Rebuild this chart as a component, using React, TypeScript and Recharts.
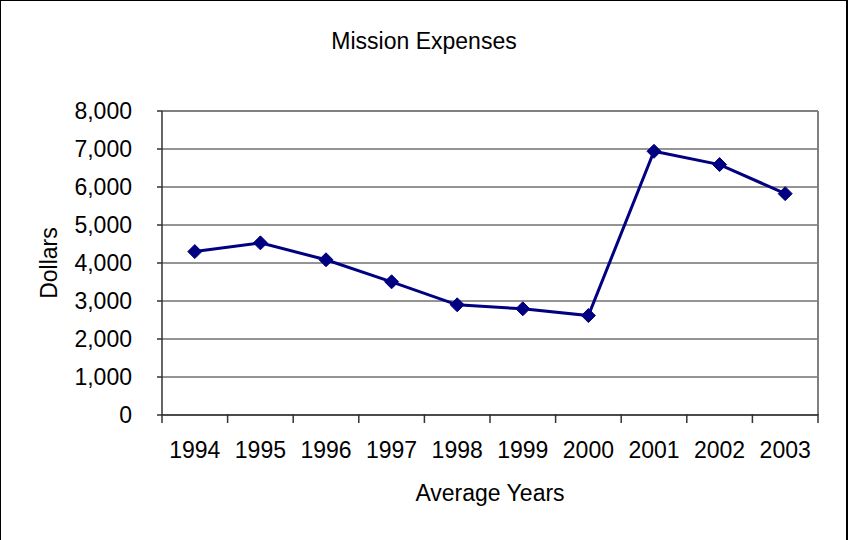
import React from 'react';
import { LineChart, Line, XAxis, YAxis, CartesianGrid, ReferenceLine } from 'recharts';

const years = ['1994', '1995', '1996', '1997', '1998', '1999', '2000', '2001', '2002', '2003'];
const expenses = [4300, 4530, 4085, 3505, 2900, 2795, 2617, 6940, 6590, 5825];
const yTicks = [0, 1000, 2000, 3000, 4000, 5000, 6000, 7000, 8000];

const data = years.map((y, i) => ({ pos: i + 0.5, year: y, value: expenses[i] }));
const xTicks: number[] = [];
for (let i = 0; i <= years.length; i++) {
  xTicks.push(i);
  if (i < years.length) xTicks.push(i + 0.5);
}

const FONT = 'Liberation Sans, Arial, sans-serif';
const FS = 23;

const XTick = (props: any) => {
  const { x, y, payload } = props;
  const v = payload.value as number;
  if (Number.isInteger(v)) {
    return <line x1={x} x2={x} y1={y - 9} y2={y} stroke="#333" strokeWidth={1.5} />;
  }
  return (
    <text x={x} y={y + 35} textAnchor="middle" fontFamily={FONT} fontSize={FS} fill="#000">
      {years[Math.floor(v)]}
    </text>
  );
};

const YTick = (props: any) => {
  const { x, y, payload } = props;
  return (
    <text x={x - 23} y={y + 8} textAnchor="end" fontFamily={FONT} fontSize={FS} fill="#000">
      {payload.value.toLocaleString('en-US')}
    </text>
  );
};

const Diamond = (props: any) => {
  const { cx, cy } = props;
  if (cx == null || cy == null) return null;
  const r = 7;
  return (
    <polygon
      points={`${cx},${cy - r} ${cx + r},${cy} ${cx},${cy + r} ${cx - r},${cy}`}
      fill="#000080"
      stroke="#000080"
    />
  );
};

export default function App() {
  return (
    <div style={{ position: 'absolute', left: 0, top: 0, width: 851, height: 540, background: '#fff', overflow: 'hidden' }}>
      <div
        style={{
          position: 'absolute',
          left: 0,
          top: 0,
          width: 848,
          height: 560,
          borderLeft: '1.5px solid #000',
          borderTop: '1.5px solid #000',
          borderRight: '2px solid #000',
          boxSizing: 'border-box',
        }}
      />
      <LineChart
        width={851}
        height={540}
        data={data}
        margin={{ top: 111, right: 33, bottom: 0, left: 80 }}
        style={{ position: 'absolute', left: 0, top: 0 }}
      >
        <text x={424} y={49} textAnchor="middle" fontFamily={FONT} fontSize={FS} fill="#000">
          Mission Expenses
        </text>
        <text x={490} y={501} textAnchor="middle" fontFamily={FONT} fontSize={FS} fill="#000">
          Average Years
        </text>
        <text
          x={57}
          y={263}
          textAnchor="middle"
          fontFamily={FONT}
          fontSize={FS}
          fill="#000"
          transform="rotate(-90 57 263)"
        >
          Dollars
        </text>
        <CartesianGrid vertical={false} stroke="#2a2a2a" strokeWidth={1} />
        <ReferenceLine y={8000} stroke="#808080" strokeWidth={2} />
        <ReferenceLine x={10} stroke="#808080" strokeWidth={2} />
        <XAxis
          dataKey="pos"
          type="number"
          domain={[0, 10]}
          ticks={xTicks}
          interval={0}
          tick={<XTick />}
          tickLine={false}
          axisLine={{ stroke: '#333', strokeWidth: 1.5 }}
          height={125}
        />
        <YAxis
          type="number"
          domain={[0, 8000]}
          ticks={yTicks}
          interval={0}
          tick={<YTick />}
          tickLine={{ stroke: '#333', strokeWidth: 1.5 }}
          tickSize={5}
          axisLine={{ stroke: '#333', strokeWidth: 1.5 }}
          width={82}
        />
        <Line
          dataKey="value"
          stroke="#000080"
          strokeWidth={3}
          dot={<Diamond />}
          activeDot={false}
          isAnimationActive={false}
        />
      </LineChart>
    </div>
  );
}
